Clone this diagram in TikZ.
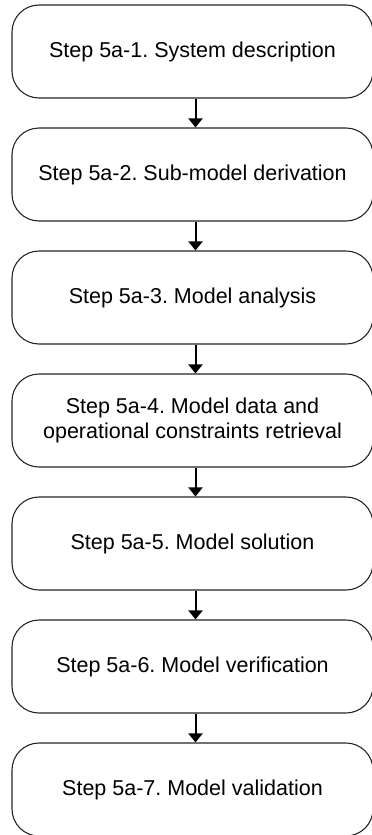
\documentclass[tikz,border=0pt]{standalone}
\usepackage{fontspec}
\setmainfont{Liberation Sans}
\usetikzlibrary{arrows.meta}
\frenchspacing
\begin{document}
\begin{tikzpicture}[x=1pt,y=1pt,
  stepbox/.style={draw=black!85, line width=1.1pt, rounded corners=27pt,
    minimum width=361pt, minimum height=93pt, inner sep=0pt,
    align=center, font=\fontsize{21.5pt}{25pt}\selectfont},
  flow/.style={line width=2pt, -{Triangle[length=9pt,width=14pt]}}]
\useasboundingbox (0,0) rectangle (372,-835);
\fill[white] (0,0) rectangle (372,-835);
\node[stepbox] (s1) at (192.5,-51.5) {Step 5a-1. System description};
\node[stepbox] (s2) at (192.5,-174.5) {Step 5a-2. Sub-model derivation};
\node[stepbox] (s3) at (192.5,-297.5) {Step 5a-3. Model analysis};
\node[stepbox] (s4) at (192.5,-420.5) {Step 5a-4. Model data and\\operational constraints retrieval};
\node[stepbox] (s5) at (192.5,-543.5) {Step 5a-5. Model solution};
\node[stepbox] (s6) at (192.5,-666.5) {Step 5a-6. Model verification};
\node[stepbox] (s7) at (192.5,-789.5) {Step 5a-7. Model validation};
\foreach \a/\b in {s1/s2,s2/s3,s3/s4,s4/s5,s5/s6,s6/s7}
  \draw[flow] ([xshift=3pt]\a.south) -- ([xshift=3pt]\b.north);
\end{tikzpicture}
\end{document}
